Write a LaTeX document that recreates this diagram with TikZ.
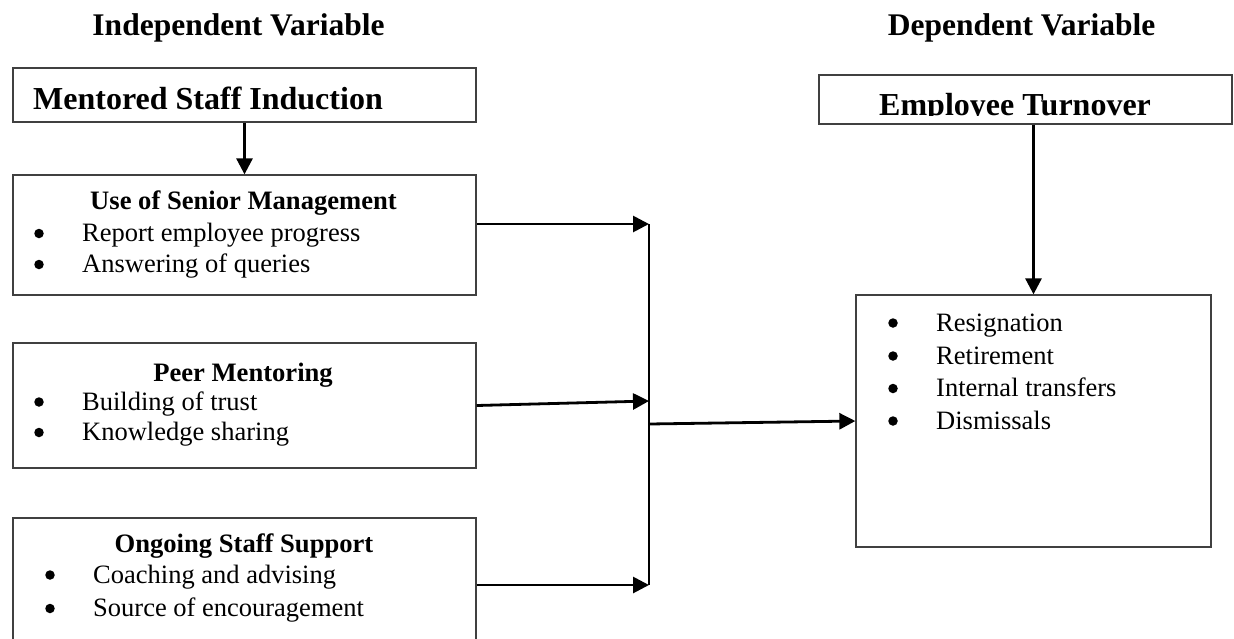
\documentclass[tikz,border=0pt]{standalone}
\usepackage{fontspec}
\setmainfont{Liberation Serif}
\usetikzlibrary{arrows.meta}
\begin{document}
\begin{tikzpicture}[x=1pt,y=-1pt,
  box/.style={draw=black!75, line width=1.3pt, inner sep=0pt},
  headtxt/.style={font=\fontsize{31.5}{36}\selectfont\bfseries, inner sep=0pt, anchor=base},
  bigtxt/.style={font=\fontsize{32}{36}\selectfont\bfseries, inner sep=0pt, anchor=base west},
  subtxt/.style={font=\fontsize{26.6}{30}\selectfont\bfseries, inner sep=0pt, anchor=base},
  itemtxt/.style={font=\fontsize{26.5}{30}\selectfont, inner sep=0pt, anchor=base west},
  bul/.style={circle, fill=black, inner sep=0pt, minimum size=9.5pt},
  arr/.style={line width=2.8pt, -{Triangle[length=16pt,width=16pt]}},
  bar/.style={line width=2.3pt}
]
\clip (0,0) rectangle (1234,638);
\fill[white] (0,0) rectangle (1234,638);

% headings
\node[headtxt] (hind) at (238.5,35) {Independent Variable};
\node[headtxt] (hdep) at (1021.5,35) {Dependent Variable};

% boxes
\node[box, minimum width=463pt, minimum height=54pt] (ment) at (244.5,95) {};
\node[box, minimum width=463pt, minimum height=120pt] (sen) at (244.5,235) {};
\node[box, minimum width=463pt, minimum height=125pt] (peer) at (244.5,405.5) {};
\node[box, minimum width=463pt, minimum height=142pt] (ong) at (244.5,589) {};
\node[box, minimum width=413pt, minimum height=49pt] (emp) at (1025.5,99.5) {};
\node[box, minimum width=355pt, minimum height=252pt] (dep) at (1033.5,421) {};

% box texts
\node[bigtxt] (tment) at (33,109) {Mentored Staff Induction};
\begin{scope}
  \clip (800,60) rectangle (1232,115.5);
  \node[bigtxt] (temp) at (879,115) {Employee Turnover};
\end{scope}

\node[subtxt] (tsen) at (243.5,209) {Use of Senior Management};
\node[bul] (bs1) at (39,233.5) {};
\node[itemtxt] (ts1) at (82,241.5) {Report employee progress};
\node[bul] (bs2) at (39,264.5) {};
\node[itemtxt] (ts2) at (82,272.5) {Answering of queries};

\node[subtxt] (tpeer) at (243,381.5) {Peer Mentoring};
\node[bul] (bp1) at (39,402) {};
\node[itemtxt] (tp1) at (82,410) {Building of trust};
\node[bul] (bp2) at (39,432.5) {};
\node[itemtxt] (tp2) at (82,440.5) {Knowledge sharing};

\node[subtxt] (tong) at (244,552) {Ongoing Staff Support};
\node[bul] (bo1) at (50,575) {};
\node[itemtxt] (to1) at (93,583) {Coaching and advising};
\node[bul] (bo2) at (50,608.5) {};
\node[itemtxt] (to2) at (93,616.5) {Source of encouragement};

\node[bul] (bd1) at (893,323) {};
\node[itemtxt] (td1) at (936,331) {Resignation};
\node[bul] (bd2) at (893,356) {};
\node[itemtxt] (td2) at (936,364) {Retirement};
\node[bul] (bd3) at (893,388.5) {};
\node[itemtxt] (td3) at (936,396.5) {Internal transfers};
\node[bul] (bd4) at (893,421) {};
\node[itemtxt] (td4) at (936,429) {Dismissals};

% junction coordinates
\coordinate (j1) at (649,224);
\coordinate (j2) at (649,401);
\coordinate (j3) at (649,585);
\coordinate (jm) at (649,424);

% connectors
\draw[arr] (ment.south) -- (sen.north);
\draw[arr] (dep.north |- emp.south) -- (dep.north);
\draw[arr] (sen.east |- j1) -- (j1);
\draw[arr] (peer.east) -- (j2);
\draw[arr] (ong.east |- j3) -- (j3);
\draw[bar] (j1) -- (j3);
\draw[arr] (jm) -- (dep.west);
\end{tikzpicture}
\end{document}
